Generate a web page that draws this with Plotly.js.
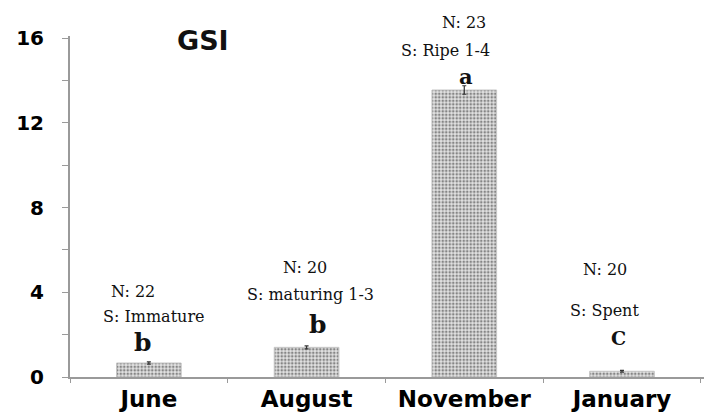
<!DOCTYPE html>
<html>
<head>
<meta charset="utf-8">
<script src="https://cdn.plot.ly/plotly-3.0.1.min.js"></script>
<style>html,body{margin:0;padding:0;background:#fff;}#chart{width:704px;height:414px;}</style>
</head>
<body>
<div id="chart"></div>
<script>
// ---- data ----
const months = ["June", "August", "November", "January"];
const gsiMean = [0.66, 1.4, 13.55, 0.27];
const gsiErr = [0.05, 0.07, 0.2, 0.04];
const sampleLabels = ["N: 22", "N: 20", "N: 23", "N: 20"];
const stageLabels = ["S: Immature", "S: maturing 1-3", "S: Ripe 1-4", "S: Spent"];
const sigLetters = ["b", "b", "a", "C"];
const yTickVals = [0, 4, 8, 12, 16];

// ---- label placement (layout only) ----
const yMax = 16.1;
const nPos = [[-0.10, 4.04], [-0.01, 5.16], [0.0, 16.76], [-0.11, 5.07]];
const sPos = [[0.03, 2.86], [0.025, 3.9], [-0.12, 15.4], [-0.11, 3.15]];
const lPos = [[-0.04, 1.64], [0.07, 2.49], [0.01, 14.18], [-0.02, 1.83]];
const letterSize = [25, 25, 21, 19];

const trace = {
  type: "bar",
  x: months,
  y: gsiMean,
  width: 0.41,
  marker: {
    color: "#cfcfcf",
    line: {color: "#c4c4c4", width: 1},
    pattern: {shape: ".", fgcolor: "#858585", bgcolor: "#e2e2e2", size: 3.5, solidity: 0.45}
  },
  error_y: {type: "data", array: gsiErr, visible: true, color: "#333", thickness: 1.2, width: 2}
};

const annotations = [];
const serif = "DejaVu Serif";
function addLabel(i, pos, text, font) {
  annotations.push({x: i + pos[0], y: pos[1] / yMax, xref: "x", yref: "paper", text: text,
    xanchor: "center", yanchor: "middle", showarrow: false, font: font});
}
months.forEach((m, i) => {
  addLabel(i, nPos[i], sampleLabels[i], {family: serif, size: 16, color: "#111"});
  addLabel(i, sPos[i], stageLabels[i], {family: serif, size: 16, color: "#111"});
  addLabel(i, lPos[i], sigLetters[i], {family: serif, size: letterSize[i], color: "#111", weight: "bold"});
});
annotations.push({x: (203 - 70) / 634, y: (377 - 40) / 341, xref: "paper", yref: "paper", text: "GSI",
  xanchor: "center", yanchor: "middle", showarrow: false,
  font: {family: "DejaVu Sans", size: 27, color: "#111", weight: "bold"}});

const layout = {
  width: 704, height: 414,
  margin: {l: 70, r: 0, t: 36, b: 37},
  paper_bgcolor: "#fff", plot_bgcolor: "#fff",
  showlegend: false,
  xaxis: {
    type: "category",
    range: [-0.5, 3.52],
    showline: true, linecolor: "#9a9a9a", linewidth: 2,
    ticks: "outside", tickson: "boundaries", ticklen: 4, tickcolor: "#9a9a9a",
    showgrid: false, zeroline: false,
    tickfont: {family: "DejaVu Sans", size: 23, color: "#000", weight: "bold"}
  },
  yaxis: {
    range: [0, yMax],
    tickvals: yTickVals,
    showline: true, linecolor: "#9a9a9a", linewidth: 2,
    ticks: "outside", ticklen: 6, tickcolor: "#9a9a9a",
    minor: {dtick: 2, ticks: "outside", ticklen: 6, tickcolor: "#9a9a9a"},
    showgrid: false, zeroline: false,
    ticklabelstandoff: 14,
    tickfont: {family: "DejaVu Sans", size: 20, color: "#000", weight: "bold"}
  },
  annotations: annotations
};

Plotly.newPlot("chart", [trace], layout, {staticPlot: true, displayModeBar: false});
</script>
</body>
</html>
